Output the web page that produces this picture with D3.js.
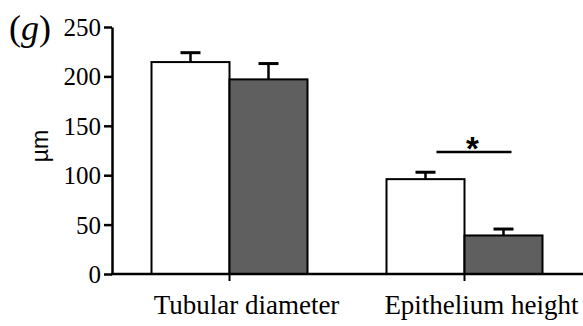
<!DOCTYPE html>
<html><head><meta charset="utf-8">
<script src="https://cdn.jsdelivr.net/npm/d3@7/dist/d3.min.js"></script>
<style>body{margin:0;background:#fff}svg{display:block}</style>
</head><body>
<svg id="c" width="583" height="326"></svg>
<script>
const categories = ["Tubular diameter", "Epithelium height"];
const groups = ["control", "treated"];
const controlValues = [214.5, 96];
const treatedValues = [197, 39];
const controlErrors = [9.5, 7];
const treatedErrors = [16, 6.5];
const yTicks = [0, 50, 100, 150, 200, 250];
const yLabel = "µm";
const SERIF = "Liberation Serif";
const SANS = "Liberation Sans";

const svg = d3.select("#c");
const x = d3.scaleBand().domain(categories).range([112, 582]);
const x1 = d3.scaleBand().domain(groups).range([39.5, x.bandwidth() - 39.5]);
const y = d3.scaleLinear().domain([0, 250]).range([274, 27]);
const fills = {control: "#ffffff", treated: "#5f5f5f"};

const data = [];
categories.forEach((c, i) => {
  data.push({cat: c, g: "control", v: controlValues[i], e: controlErrors[i]});
  data.push({cat: c, g: "treated", v: treatedValues[i], e: treatedErrors[i]});
});

const eb = svg.append("g");
data.forEach(d => {
  const cx = x(d.cat) + x1(d.g) + x1.bandwidth() / 2;
  eb.append("line").attr("x1", cx).attr("x2", cx).attr("y1", y(d.v)).attr("y2", y(d.v + d.e))
    .attr("stroke", "#000").attr("stroke-width", 2.5);
  eb.append("line").attr("x1", cx - 10).attr("x2", cx + 10).attr("y1", y(d.v + d.e)).attr("y2", y(d.v + d.e))
    .attr("stroke", "#000").attr("stroke-width", 3);
});

svg.append("g").selectAll("rect").data(data).join("rect")
  .attr("x", d => x(d.cat) + x1(d.g))
  .attr("width", x1.bandwidth())
  .attr("y", d => y(d.v))
  .attr("height", d => y(0) - y(d.v))
  .attr("fill", d => fills[d.g])
  .attr("stroke", "#000").attr("stroke-width", 2);

const ya = svg.append("g").attr("transform", "translate(112,0)")
  .call(d3.axisLeft(y).tickValues(yTicks).tickSize(8).tickPadding(3).tickSizeOuter(0));
ya.attr("font-family", SERIF).attr("font-size", 25);
ya.select(".domain").attr("stroke-width", 2.5);
ya.selectAll(".tick line").attr("stroke-width", 2.5);
ya.selectAll("text").attr("fill", "#000").attr("dy", "0.34em");

const xa = svg.append("g").attr("transform", "translate(0,274)")
  .call(d3.axisBottom(x).tickSize(7).tickSizeOuter(0).tickFormat(""));
xa.select(".domain").attr("stroke-width", 2.5).attr("d", "M111,0H583");
xa.selectAll(".tick line").attr("stroke-width", 2);

svg.append("g").attr("font-family", SERIF).attr("font-size", 27)
  .selectAll("text").data(categories).join("text")
  .attr("x", d => x(d) + x.bandwidth() / 2 + 17)
  .attr("y", 314)
  .attr("text-anchor", "middle")
  .text(d => d);

svg.append("text").attr("font-family", SANS).attr("transform", "translate(48,146) rotate(-90)")
  .attr("text-anchor", "middle").attr("font-size", 23)
  .text(yLabel);

svg.append("text").attr("font-family", SERIF).attr("x", 9).attr("y", 40)
  .attr("font-size", 36)
  .html('(<tspan font-style="italic">g</tspan>)');

const c2 = categories[1];
svg.append("line")
  .attr("x1", x(c2) + x1("control") + x1.bandwidth() / 2 + 11)
  .attr("x2", x(c2) + x1("treated") + x1.bandwidth() / 2 + 8)
  .attr("y1", 152).attr("y2", 152).attr("stroke", "#000").attr("stroke-width", 2.5);
svg.append("text").attr("font-family", SANS).attr("x", x(c2) + x.bandwidth() / 2 + 8).attr("y", 160)
  .attr("text-anchor", "middle").attr("font-weight", "bold").attr("font-size", 33)
  .text("*");
</script>
</body></html>
